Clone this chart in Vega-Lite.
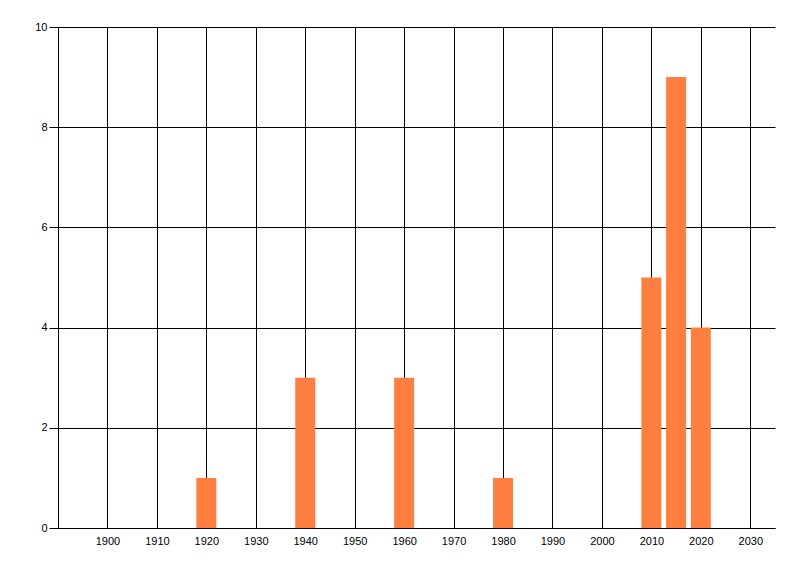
{
  "$schema": "https://vega.github.io/schema/vega-lite/v6.json",
  "background": "white",
  "autosize": {"type": "none"},
  "padding": {"left": 58, "top": 27, "right": 25, "bottom": 48},
  "width": 717,
  "height": 501,
  "data": {
    "values": [
      {"year": 1920, "count": 1},
      {"year": 1940, "count": 3},
      {"year": 1960, "count": 3},
      {"year": 1980, "count": 1},
      {"year": 2010, "count": 5},
      {"year": 2015, "count": 9},
      {"year": 2020, "count": 4}
    ]
  },
  "mark": {"type": "bar", "width": 20, "color": "#FF7F40", "opacity": 1},
  "encoding": {
    "x": {
      "field": "year",
      "type": "quantitative",
      "scale": {"domain": [1890, 2035], "nice": false, "zero": false, "padding": 0},
      "axis": {
        "title": null,
        "values": [1900, 1910, 1920, 1930, 1940, 1950, 1960, 1970, 1980, 1990, 2000, 2010, 2020, 2030],
        "format": "d",
        "grid": true,
        "gridColor": "black",
        "gridOpacity": 1,
        "ticks": false,
        "labelPadding": 7,
        "domainColor": "black",
        "labelColor": "black",
        "labelFont": "Liberation Sans",
        "labelFontSize": 11
      }
    },
    "y": {
      "field": "count",
      "type": "quantitative",
      "scale": {"domain": [0, 10], "nice": false},
      "axis": {
        "title": null,
        "values": [0, 2, 4, 6, 8, 10],
        "grid": true,
        "gridColor": "black",
        "gridOpacity": 1,
        "tickColor": "black",
        "tickSize": 9,
        "labelPadding": 2,
        "domainColor": "black",
        "labelColor": "black",
        "labelFont": "Liberation Sans",
        "labelFontSize": 11
      }
    }
  },
  "config": {"view": {"stroke": null}}
}
